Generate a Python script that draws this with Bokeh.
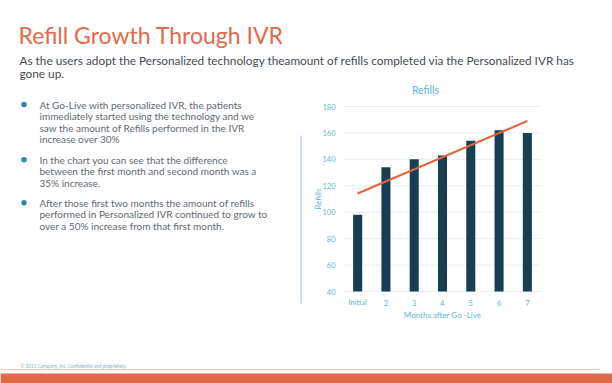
from bokeh.plotting import figure
from bokeh.models import Range1d, ColumnDataSource
from bokeh.core.properties import value
from bokeh.embed import file_html
from bokeh.resources import INLINE
import numpy as np

# ---------------- data ----------------
months = ["Initial", "2", "3", "4", "5", "6", "7"]
refills = [98, 134, 140, 143, 154, 162, 160]
y_ticks = [40, 60, 80, 100, 120, 140, 160, 180]

slide_title = "Refill Growth  Through IVR"
subtitle_lines = [
    "As the users adopt the Personalized technology theamount of refills completed via the Personalized IVR has",
    "gone up.",
]
bullets = [
    ["At Go-Live with personalized IVR, the patients",
     "immediately started using the technology and we",
     "saw the amount of Refills performed in the IVR",
     "increase over 30%"],
    ["In the chart you can see that the  difference",
     "between the first month  and second month was a",
     "35% increase."],
    ["After those first two months the amount of refills",
     "performed in Personalized IVR continued to grow to",
     "over a 50% increase from that first month."],
]
chart_title = "Refills"
x_label = "Months after Go -Live"
y_label = "Refills"
footer_text = "© 2015 Company, Inc. Confidential and proprietary."

# ---------------- layout (page pixels) ----------------
W, H = 612, 383
FL, FR, FT, FB = 343, 541, 106, 291     # chart plot-area edges
Y0, Y1 = 40, 180                        # value axis limits

FONT = "Lato"
ORANGE = "#E4694B"
DARK = "#3F4C56"
GREY = "#5E6A73"
TEAL = "#2B8BAA"
LBLUE = "#5FB3D8"
BAR = "#173E53"
TREND = "#E5623A"

# one canvas whose frame is the whole page (page pixel coordinates)
p = figure(width=W, height=H, x_range=Range1d(0, W), y_range=Range1d(H, 0),
           x_axis_location=None, y_axis_location=None, title=None,
           output_backend="svg", toolbar_location=None, min_border=0)
p.grid.visible = False
p.outline_line_color = None
p.background_fill_color = "white"
p.border_fill_color = "white"

# chart scales: category index and value ranges placed on the chart area
n = len(months)
step = (FR - FL) / n
p.extra_x_ranges = {"cat": Range1d((0 - FL) / step - 0.5, (W - FL) / step - 0.5)}
vpp = (Y1 - Y0) / (FB - FT)
p.extra_y_ranges = {"val": Range1d(Y0 - (H - FB) * vpp, Y1 + FT * vpp)}


def txt(x, y, text, size, color, align="left", baseline="middle",
        angle=0, xr="default", yr="default"):
    x = x if isinstance(x, list) else [x]
    y = y if isinstance(y, list) else [y]
    text = text if isinstance(text, list) else [text]
    p.text(x=x, y=y, text=text, text_font=value(FONT),
           text_font_size=value(size), text_color=color,
           text_align=align, text_baseline=baseline, angle=angle,
           x_range_name=xr, y_range_name=yr)


# ---- slide title + subtitle (y = line centre) ----
txt(18, 34, slide_title, "23px", ORANGE)
txt(19, 60, subtitle_lines[0], "11.8px", DARK)
txt(19, 73, subtitle_lines[1], "11.8px", DARK)

# ---- bullets ----
bullet_top = [104, 159.3, 202.3]
LINE = 11.6
p.scatter(x=[23.5] * 3, y=bullet_top, size=5.5,
          marker="circle", fill_color=TEAL, line_color=None)
for b0, lines in zip(bullet_top, bullets):
    for i, ln in enumerate(lines):
        txt(39, b0 + i * LINE, ln, "10px", GREY)

# divider line between text and chart
p.segment(x0=[300.5], y0=[135], x1=[300.5], y1=[303],
          line_color="#8CC8DF", line_width=1)

# ---- chart ----
idx = list(range(n))
# horizontal grid lines at the value ticks
p.segment(x0=[-0.5] * len(y_ticks), x1=[n - 0.5] * len(y_ticks),
          y0=y_ticks, y1=y_ticks, line_color="#E4EEF3", line_width=1,
          x_range_name="cat", y_range_name="val")

src = ColumnDataSource(dict(x=idx, v=refills))
p.vbar(x="x", top="v", bottom=Y0, width=0.32, source=src,
       fill_color=BAR, line_color=None,
       x_range_name="cat", y_range_name="val")

# linear trendline (Excel-style) fitted to the bar values
xs = np.arange(n)
slope, icpt = np.polyfit(xs, refills, 1)
p.line(x=[xs[0], xs[-1]], y=[slope * xs[0] + icpt, slope * xs[-1] + icpt],
       line_color=TREND, line_width=2,
       x_range_name="cat", y_range_name="val")

# tick labels
txt([FL - 8] * len(y_ticks), y_ticks, [str(t) for t in y_ticks], "7.5px", LBLUE,
    align="right", yr="val")
txt(idx, [FB + 11] * n, months, "7.5px", LBLUE, align="center", xr="cat")

# axis titles and chart title
txt(317, (FT + FB) / 2, y_label, "8px", LBLUE, align="center", angle=np.pi / 2)
txt((FL + FR) / 2, 314.5, x_label, "8px", LBLUE, align="center")
txt(425, 89, chart_title, "10.5px", LBLUE, align="center")

# ---- footer ----
txt(20, 365, footer_text, "4.7px", "#7FB2C8")
p.segment(x0=[0], y0=[369], x1=[600], y1=[369], line_color="#F3C6B5", line_width=1)
p.quad(left=[0], right=[W], top=[373], bottom=[H], fill_color="#E0694A", line_color=None)

open("out.html", "w").write(file_html(p, INLINE))
